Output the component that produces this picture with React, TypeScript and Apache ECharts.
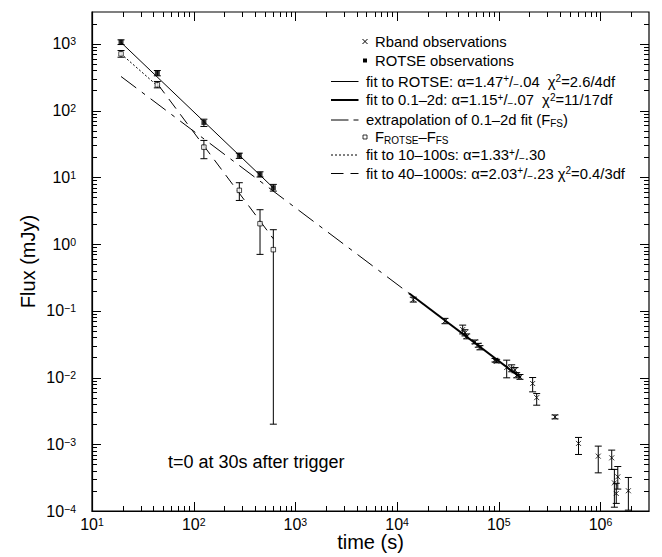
import React, { useEffect, useRef } from 'react';
import * as echarts from 'echarts';

const FONT = '"Liberation Sans", Arial, Helvetica, sans-serif';

// ROTSE observations: time (s), flux (mJy), error bar low / high
const rotseT = [19.3, 43.9, 126, 281, 449, 607];
const rotseF = [1057, 363, 66.4, 21.3, 11.0, 6.98];
const rotseLo = [976, 332, 57.8, 19.2, 10.1, 6.21];
const rotseHi = [1148, 398, 74.3, 23.0, 12.1, 7.83];

// F_ROTSE - F_FS
const diffT = [19.3, 43.9, 126, 281, 449, 607];
const diffF = [708, 243, 28.3, 6.37, 2.02, 0.824];
const diffLo = [630, 219, 19.0, 4.5, 0.70, 0.002];
const diffHi = [794, 273, 35.7, 8.3, 3.27, 1.64];

// R band observations
const rbandT = [14430, 29580, 44150, 46540, 48350, 58300, 62840, 65300, 91800, 95300,
  119600, 134000, 144400, 150000, 161600, 215300, 235900, 357300, 608000, 951000,
  1290000, 1370000, 1430000, 1480000, 1880000];
const rbandF = [0.147, 0.0703, 0.0523, 0.0466, 0.0415, 0.0341, 0.0305, 0.0281, 0.01815, 0.01754,
  0.01412, 0.01364, 0.0129, 0.0108, 0.0102, 0.00813, 0.0050, 0.00257, 0.00103, 0.000664,
  0.000626, 0.000264, 0.000183, 0.000325, 0.000201];
const rbandLo = [0.135, 0.064, 0.045, 0.042, 0.038, 0.032, 0.0285, 0.026, 0.0171, 0.0166,
  0.0099, 0.0122, 0.0118, 0.0099, 0.0094, 0.0061, 0.00385, 0.0024, 0.000703, 0.000373,
  0.00042, 0.000114, 0.00013, 0.000213, 0.000103];
const rbandHi = [0.160, 0.077, 0.061, 0.052, 0.045, 0.0365, 0.0325, 0.030, 0.0193, 0.0185,
  0.0182, 0.0155, 0.0141, 0.0118, 0.0111, 0.0100, 0.00575, 0.00275, 0.001265, 0.000938,
  0.000817, 0.00042, 0.00026, 0.000464, 0.000318];

// Fitted power laws (end points)
const fitRotse = [[19.3, 1050], [607, 6.95]];
const fit01to2d = [[13100, 0.183], [165000, 0.00995]];
const extrapFS = [[19.3, 324], [13100, 0.183]];
const fit10to100 = [[19.3, 708], [44, 235]];
const fit40to1000 = [[44, 252], [607, 1.2]];

// Axes
const xMin = 10, xMax = 3e6, yMin = 1e-4, yMax = 3000;
const xDecades = [1, 10, 100, 1e3, 1e4, 1e5, 1e6];
const yDecades = [1e-4, 1e-3, 1e-2, 1e-1, 1, 10, 100, 1e3];
const minorMult = [2, 3, 4, 5, 6, 7, 8, 9];

const legendRows = [
  { kind: 'cross', text: 'Rband observations' },
  { kind: 'filled', text: 'ROTSE observations' },
  { kind: 'line', width: 1, dash: null, text: 'fit to ROTSE: α=1.47{sup|+}/{sub|−}.04  χ{sup|2}=2.6/4df' },
  { kind: 'line', width: 2, dash: null, text: 'fit to 0.1–2d: α=1.15{sup|+}/{sub|−}.07  χ{sup|2}=11/17df' },
  { kind: 'line', width: 1, dash: [17.5, 5, 5, 30], text: 'extrapolation of 0.1–2d fit (F{sub|FS})' },
  { kind: 'open', text: 'F{sub|ROTSE}–F{sub|FS}' },
  { kind: 'line', width: 1, dash: [2, 2], text: 'fit to 10–100s: α=1.33{sup|+}/{sub|−}.30' },
  { kind: 'line', width: 1, dash: [12.5, 7], text: 'fit to 40–1000s: α=2.03{sup|+}/{sub|−}.23 χ{sup|2}=0.4/3df' },
];
const legendY = [41.5, 60.5, 81.5, 100, 120, 137, 155, 173.5];

function expLabel(v: number) {
  const l = Math.log10(v);
  const e = Math.round(l);
  if (Math.abs(l - e) > 1e-6) return '';
  return '{b|10}{s|' + (e < 0 ? '−' + -e : String(e)) + '}';
}

export default function App() {
  const ref = useRef<HTMLDivElement>(null);
  useEffect(() => {
    const chart = echarts.init(ref.current!, null, { renderer: 'svg' });

    const ticks: number[][] = [];
    xDecades.forEach((d) => {
      if (d >= xMin && d <= xMax) ticks.push([d, 1, 0, 9]);
      minorMult.forEach((m) => {
        const v = d * m;
        if (v > xMin && v < xMax) ticks.push([v, 1, 0, 5]);
      });
    });
    yDecades.forEach((d) => {
      if (d >= yMin && d <= yMax) ticks.push([100, d, 1, 9]);
      minorMult.forEach((m) => {
        const v = d * m;
        if (v > yMin && v < yMax) ticks.push([100, v, 1, 5]);
      });
    });

    const labels: number[][] = [];
    xDecades.forEach((d) => { if (d >= xMin && d <= xMax) labels.push([d, 1, 0]); });
    yDecades.forEach((d) => { if (d >= yMin && d <= yMax) labels.push([100, d, 1]); });

    const errData: number[][] = [];
    rotseT.forEach((t, i) => errData.push([t, rotseF[i], rotseLo[i], rotseHi[i]]));
    diffT.forEach((t, i) => errData.push([t, diffF[i], diffLo[i], diffHi[i]]));
    rbandT.forEach((t, i) => errData.push([t, rbandF[i], rbandLo[i], rbandHi[i]]));

    const black = '#000';
    const lineSeries = (data: number[][], width: number, type: any) => ({
      type: 'line',
      data,
      symbol: 'none',
      silent: true,
      z: 3,
      lineStyle: { color: black, width, type },
    });

    const rich = {
      sup: { fontSize: 10, lineHeight: 9, verticalAlign: 'top', fontFamily: FONT },
      sub: { fontSize: 10, lineHeight: 9, verticalAlign: 'bottom', fontFamily: FONT },
    };

    const graphics: any[] = [];
    legendRows.forEach((r, i) => {
      const y = legendY[i];
      if (r.kind === 'cross') {
        graphics.push({ type: 'line', shape: { x1: 362.5, y1: y - 2.5, x2: 367.5, y2: y + 2.5 }, style: { stroke: black, lineWidth: 1 } });
        graphics.push({ type: 'line', shape: { x1: 362.5, y1: y + 2.5, x2: 367.5, y2: y - 2.5 }, style: { stroke: black, lineWidth: 1 } });
      } else if (r.kind === 'filled') {
        graphics.push({ type: 'rect', shape: { x: 363, y: y - 2, width: 4, height: 4 }, style: { fill: black } });
      } else if (r.kind === 'open') {
        graphics.push({ type: 'rect', shape: { x: 363, y: y - 2, width: 4, height: 4 }, style: { fill: '#fff', stroke: black, lineWidth: 0.8 } });
      } else {
        graphics.push({
          type: 'line',
          shape: { x1: 331, y1: y, x2: 358.5, y2: y },
          style: { stroke: black, lineWidth: r.width, lineDash: r.dash || undefined },
        });
      }
      const tx = r.kind === 'line' ? 366 : 375;
      graphics.push({
        type: 'text',
        x: tx,
        y,
        style: {
          text: r.text,
          fontSize: 14.8,
          fontFamily: FONT,
          fill: black,
          verticalAlign: 'middle',
          lineHeight: 16,
          rich,
        },
      });
    });
    graphics.push({
      type: 'text',
      x: 168,
      y: 462,
      style: { text: 't=0 at 30s after trigger', fontSize: 18, fontFamily: FONT, fill: black, verticalAlign: 'middle' },
    });

    const labelRich = {
      b: { fontSize: 16, lineHeight: 16, verticalAlign: 'bottom', fontFamily: FONT, fill: black },
      s: { fontSize: 10.5, lineHeight: 6, verticalAlign: 'top', fontFamily: FONT, fill: black },
    };

    chart.setOption({
      animation: false,
      backgroundColor: '#fff',
      textStyle: { fontFamily: FONT },
      grid: { left: 92, right: 13, top: 12, bottom: 45, show: true, borderColor: black, borderWidth: 1.2 },
      xAxis: {
        type: 'log',
        logBase: 10,
        min: xMin,
        max: xMax,
        splitNumber: 8,
        name: 'time (s)',
        nameLocation: 'middle',
        nameGap: 21,
        nameTextStyle: { fontSize: 20, fontFamily: FONT, color: black },
        axisLine: { show: true, lineStyle: { color: black, width: 1.2 } },
        axisTick: { show: false },
        splitLine: { show: false },
        axisLabel: { show: false },
      },
      yAxis: {
        type: 'log',
        logBase: 10,
        min: yMin,
        max: yMax,
        splitNumber: 10,
        name: 'Flux (mJy)',
        nameLocation: 'middle',
        nameGap: 54,
        nameTextStyle: { fontSize: 20, fontFamily: FONT, color: black },
        axisLine: { show: true, lineStyle: { color: black, width: 1.2 } },
        axisTick: { show: false },
        splitLine: { show: false },
        axisLabel: { show: false },
      },
      graphic: graphics,
      series: [
        {
          type: 'custom',
          silent: true,
          z: 1,
          data: ticks,
          encode: { x: 0, y: 1 },
          renderItem: (params: any, api: any) => {
            const cs = params.coordSys;
            const kind = api.value(2);
            const len = api.value(3);
            const st = { stroke: black, lineWidth: 1 };
            if (kind === 0) {
              const px = Math.round(api.coord([api.value(0), 1])[0]) + 0.5;
              const b = cs.y + cs.height;
              return {
                type: 'group',
                children: [
                  { type: 'line', shape: { x1: px, y1: b, x2: px, y2: b - len }, style: st },
                  { type: 'line', shape: { x1: px, y1: cs.y, x2: px, y2: cs.y + len }, style: st },
                ],
              };
            }
            const py = Math.round(api.coord([100, api.value(1)])[1]) + 0.5;
            const r = cs.x + cs.width;
            return {
              type: 'group',
              children: [
                { type: 'line', shape: { x1: cs.x, y1: py, x2: cs.x + len, y2: py }, style: st },
                { type: 'line', shape: { x1: r, y1: py, x2: r - len, y2: py }, style: st },
              ],
            };
          },
        },
        {
          type: 'custom',
          silent: true,
          clip: false,
          z: 5,
          data: labels,
          encode: { x: 0, y: 1 },
          renderItem: (params: any, api: any) => {
            const cs = params.coordSys;
            const kind = api.value(2);
            if (kind === 0) {
              const v = api.value(0);
              const px = api.coord([v, 1])[0];
              return {
                type: 'text',
                x: px,
                y: cs.y + cs.height + 5,
                style: {
                  text: expLabel(v), rich: labelRich, fill: black, fontFamily: FONT, fontSize: 16,
                  align: 'center', verticalAlign: 'top', textAlign: 'center', textVerticalAlign: 'top',
                },
              };
            }
            const v = api.value(1);
            const py = api.coord([100, v])[1];
            return {
              type: 'text',
              x: 76,
              y: py,
              style: {
                text: expLabel(v), rich: labelRich, fill: black, fontFamily: FONT, fontSize: 16,
                align: 'right', verticalAlign: 'middle', textAlign: 'right', textVerticalAlign: 'middle',
              },
            };
          },
        },
        {
          type: 'custom',
          silent: true,
          z: 2,
          data: errData,
          encode: { x: 0, y: 1 },
          renderItem: (params: any, api: any) => {
            const x = api.value(0);
            const lo = api.coord([x, api.value(2)]);
            const hi = api.coord([x, api.value(3)]);
            const c = 3.5;
            const st = { stroke: black, lineWidth: 1 };
            return {
              type: 'group',
              children: [
                { type: 'line', shape: { x1: lo[0], y1: lo[1], x2: hi[0], y2: hi[1] }, style: st },
                { type: 'line', shape: { x1: lo[0] - c, y1: lo[1], x2: lo[0] + c, y2: lo[1] }, style: st },
                { type: 'line', shape: { x1: hi[0] - c, y1: hi[1], x2: hi[0] + c, y2: hi[1] }, style: st },
              ],
            };
          },
        },
        lineSeries(fitRotse, 1, 'solid'),
        lineSeries(fit01to2d, 2, 'solid'),
        lineSeries(extrapFS, 1, [19, 7, 4, 7]),
        lineSeries(fit10to100, 1, [2, 2]),
        lineSeries(fit40to1000, 1, [12, 7]),
        {
          type: 'scatter',
          silent: true,
          z: 4,
          symbol: 'rect',
          symbolSize: 5,
          itemStyle: { color: black },
          data: rotseT.map((t, i) => [t, rotseF[i]]),
        },
        {
          type: 'scatter',
          silent: true,
          z: 4,
          symbol: 'rect',
          symbolSize: 4.5,
          itemStyle: { color: '#fff', borderColor: black, borderWidth: 0.9 },
          data: diffT.map((t, i) => [t, diffF[i]]),
        },
        {
          type: 'scatter',
          silent: true,
          z: 4,
          symbol: 'path://M0,0L10,10M10,0L0,10',
          symbolSize: 5,
          itemStyle: { color: 'none', borderColor: black, borderWidth: 1 },
          data: rbandT.map((t, i) => [t, rbandF[i]]),
        },
      ],
    });
    return () => chart.dispose();
  }, []);
  return (
    <div
      ref={ref}
      style={{ position: 'absolute', left: 0, top: 0, width: 662, height: 557, background: '#fff' }}
    />
  );
}
